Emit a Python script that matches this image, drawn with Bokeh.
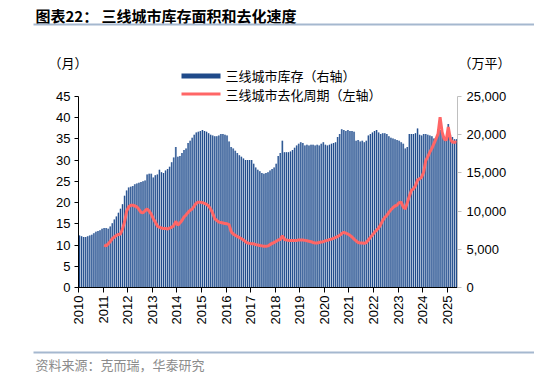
from math import pi
from bokeh.plotting import figure
from bokeh.models import (Range1d, LinearAxis, FixedTicker, NumeralTickFormatter,
                          Label, BoxAnnotation)
from bokeh.embed import file_html
from bokeh.resources import INLINE

years = [str(y) for y in range(2010, 2026)]

# 三线城市库存（万平），月度 2010-01 .. 2025-05
inventory = [
    6800, 6700, 6600, 6600, 6700, 6800, 6900, 7100, 7300, 7400, 7500, 7700,
    7800, 7800, 7700, 8000, 8400, 8900, 9300, 9800, 10300, 10900, 12000, 12700,
    13100, 13200, 13300, 13500, 13600, 13700, 13800, 13900, 14000, 14800, 14900, 14900,
    14400, 14700, 14800, 15400, 15100, 15000, 15300, 15500, 15800, 16400, 17000, 18400,
    17100, 17200, 17600, 18000, 18200, 18900, 19200, 19600, 20000, 20300, 20400, 20500,
    20600, 20500, 20400, 20200, 20000, 19900, 19800, 19800, 19900, 20100, 20100, 20000,
    19900, 19100, 18400, 18200, 17900, 17600, 17300, 17100, 16900, 16700, 16700, 16700,
    16700, 16200, 15700, 15400, 15200, 15000, 14900, 15000, 15100, 15300, 15500, 15700,
    16200, 17200, 17600, 19200, 17700, 17700, 17700, 17800, 18000, 18300, 18600, 18800,
    19000, 18900, 18600, 18700, 18600, 18700, 18700, 18600, 18700, 18600, 18800, 19000,
    18700, 18600, 18700, 18800, 18900, 19000, 19700, 20100, 20700, 20600, 20500, 20600,
    20500, 20500, 20400, 19200, 19300, 19100, 19200, 19000, 19200, 19900, 20100, 20300,
    20500, 20600, 20300, 20100, 20200, 20200, 20100, 19800, 19600, 19500, 19400, 19300,
    19200, 19000, 18800, 18200, 18400, 20100, 20100, 20100, 20200, 20800, 20000, 19900,
    20100, 20100, 20000, 19900, 19800, 19500, 19400, 20700, 20600, 20200, 19700, 19400,
    21400, 20000, 19700, 19400, 19400,
]

# 三线城市去化周期（月），月度 2011-01 .. 2025-05
cycle = [
    10.0, 9.8, 10.3, 10.8, 11.5, 11.9, 12.3, 12.5, 12.6, 13.8, 15.5, 18.0,
    19.0, 19.4, 19.4, 19.2, 19.0, 18.4, 17.7, 17.6, 18.1, 18.5, 18.0, 17.3,
    16.2, 15.4, 14.5, 14.2, 14.0, 13.9, 13.9, 13.8, 14.0, 14.2, 14.6, 15.6,
    14.7, 15.2, 15.8, 16.6, 17.1, 17.7, 18.2, 18.5, 19.2, 19.9, 20.1, 20.1,
    20.0, 19.8, 19.6, 19.2, 18.5, 17.5, 16.2, 15.8, 15.4, 15.3, 15.2, 15.1,
    15.0, 14.8, 13.2, 12.6, 12.3, 12.0, 11.8, 11.5, 11.2, 10.8, 10.5, 10.4,
    10.3, 10.3, 10.1, 10.0, 9.9, 9.8, 9.7, 9.7, 9.8, 10.1, 10.4, 10.6,
    10.9, 11.2, 11.3, 12.2, 11.3, 11.2, 11.1, 11.1, 11.1, 11.1, 11.1, 11.2,
    11.2, 11.2, 11.1, 11.0, 10.9, 10.8, 10.6, 10.5, 10.5, 10.6, 10.7, 10.8,
    11.0, 11.1, 11.3, 11.4, 11.6, 11.8, 12.0, 12.3, 12.7, 13.0, 12.8, 12.6,
    12.3, 11.9, 11.4, 11.0, 10.6, 10.5, 10.5, 10.4, 10.6, 11.2, 11.8, 12.4,
    13.0, 13.5, 14.0, 14.8, 15.8, 16.5, 17.0, 17.7, 18.3, 18.8, 19.2, 19.4,
    20.0, 20.1, 19.0, 18.5, 20.0, 21.5, 22.9, 23.2, 24.0, 25.3, 25.6, 26.0,
    27.2, 29.9, 30.8, 31.9, 32.8, 33.9, 35.0, 36.2, 40.1, 36.6, 35.0, 34.7,
    37.8, 35.0, 34.2, 34.3, 34.2,
]

left_ticks = [0, 5, 10, 15, 20, 25, 30, 35, 40, 45]
right_ticks = [0, 5000, 10000, 15000, 20000, 25000]
LEFT_MAX = 45
RIGHT_MAX = 25000

n = len(inventory)
bar_x = [i + 0.5 for i in range(n)]
line_x = [12 + i + 0.5 for i in range(len(cycle))]

# canvas and plot-area geometry (pixels)
W, H = 534, 378
PX0, PX1 = 78, 457      # plot area left / right
PY0, PY1 = 96, 287      # plot area top / bottom

xs = (PX1 - PX0) / n
ys = (PY1 - PY0) / LEFT_MAX
rs = (PY1 - PY0) / RIGHT_MAX

p = figure(width=W, height=H, output_backend="svg", toolbar_location=None,
           x_range=Range1d(-PX0 / xs, n + (W - PX1) / xs),
           y_range=Range1d(-(H - PY1) / ys, LEFT_MAX + PY0 / ys),
           min_border=0)
p.extra_y_ranges = {"inv": Range1d(-(H - PY1) / rs, RIGHT_MAX + PY0 / rs)}
p.xgrid.visible = False
p.ygrid.visible = False
p.outline_line_color = None
p.background_fill_color = "white"
p.border_fill_color = "white"

p.vbar(x=bar_x, top=inventory, width=1.0, y_range_name="inv",
       fill_color="#9DB3D1", line_color=None)
p.vbar(x=bar_x, top=inventory, width=0.5, y_range_name="inv",
       fill_color="#1F4A8A", line_color=None)
p.line(line_x, cycle, line_color="#FF6666", line_width=3)

FONT = "Liberation Sans"
CJK = "Noto Sans CJK SC"

# bottom axis
xa = p.xaxis[0]
xa.fixed_location = 0
xa.bounds = (0, n)
xa.ticker = FixedTicker(ticks=[12 * i for i in range(len(years))])
xa.major_label_overrides = {12 * i: y for i, y in enumerate(years)}
xa.major_label_orientation = pi / 2
xa.major_tick_out = 5
xa.major_tick_in = 0
xa.minor_tick_out = 0
xa.minor_tick_in = 0
xa.axis_line_color = "#000000"
xa.major_tick_line_color = "#000000"
xa.major_label_text_font = FONT
xa.major_label_text_font_size = "13px"
xa.major_label_text_color = "#000000"
xa.major_label_standoff = 3

# left axis
ya = p.yaxis[0]
ya.fixed_location = 0
ya.bounds = (0, LEFT_MAX)
ya.ticker = FixedTicker(ticks=left_ticks)
ya.major_tick_out = 4
ya.major_tick_in = 0
ya.minor_tick_out = 0
ya.minor_tick_in = 0
ya.axis_line_color = "#000000"
ya.major_tick_line_color = "#000000"
ya.major_label_text_font = FONT
ya.major_label_text_font_size = "13px"
ya.major_label_text_color = "#000000"
ya.major_label_standoff = 4

# right axis
ra = LinearAxis(y_range_name="inv", ticker=FixedTicker(ticks=right_ticks),
                formatter=NumeralTickFormatter(format="0,0"),
                fixed_location=n, bounds=(0, RIGHT_MAX))
ra.major_tick_out = 4
ra.major_tick_in = 0
ra.minor_tick_out = 0
ra.minor_tick_in = 0
ra.axis_line_color = "#BFBFBF"
ra.major_tick_line_color = "#BFBFBF"
ra.major_label_text_font = FONT
ra.major_label_text_font_size = "13px"
ra.major_label_text_color = "#000000"
ra.major_label_standoff = 5
p.add_layout(ra, "right")


def add_label(text, px, py, size, color="#000000", bold=False, align="left", font=CJK):
    p.add_layout(Label(x=px, y=H - py, x_units="screen", y_units="screen",
                       text=text, text_font=font, text_font_size=size,
                       text_color=color, text_align=align, text_baseline="middle",
                       text_font_style="bold" if bold else "normal"))


def add_box(l, r, t, b, color):
    p.add_layout(BoxAnnotation(left=l, right=r, top=H - t, bottom=H - b,
                               left_units="screen", right_units="screen",
                               top_units="screen", bottom_units="screen",
                               fill_color=color, fill_alpha=1.0, line_color=None,
                               level="overlay"))


# title
add_label("图表22：", 35, 15, "15px", bold=True)
add_label("三线城市库存面积和去化速度", 101, 15, "15px", bold=True)
add_box(33, 534, 23, 25, "#A5B8CF")

# unit labels
add_label("（月）", 48, 62, "13px")
add_label("（万平）", 458, 62, "13px")

# legend
add_box(181, 220, 73, 78, "#1F4A8A")
add_label("三线城市库存（右轴）", 225, 75, "13px")
add_box(181, 220, 92, 95, "#FF6666")
add_label("三线城市去化周期（左轴）", 225, 94, "13px")

# source
add_box(33, 534, 351, 353, "#A5B8CF")
add_label("资料来源：克而瑞，华泰研究", 35, 364, "13px", color="#8C8C8C")

open("out.html", "w").write(file_html(p, INLINE))
